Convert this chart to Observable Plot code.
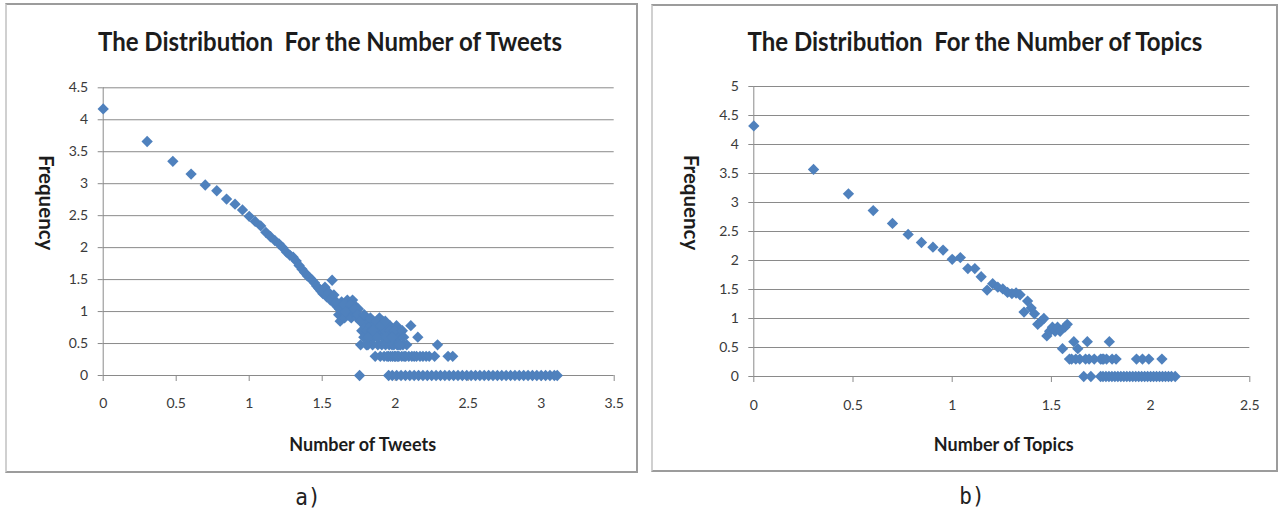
<!DOCTYPE html>
<html>
<head>
<meta charset="utf-8">
<script src="https://cdn.jsdelivr.net/npm/d3@7"></script>
<script src="https://cdn.jsdelivr.net/npm/@observablehq/plot@0.6"></script>
<style>
  html, body { margin: 0; padding: 0; background: #fff; }
  #page { position: relative; width: 1280px; height: 513px; overflow: hidden; font-family: Lato, sans-serif; }
  .panel { position: absolute; box-sizing: border-box; border: 2px solid #9c9c9c; border-left-color: #d0d0d0; }
  .title { position: absolute; font-family: Lato, sans-serif; font-weight: bold; font-size: 24px; color: #1c1c1c; white-space: pre; transform: translate(-50%, -50%) scaleY(1.08); }
  .caption { position: absolute; font-family: "DejaVu Sans Mono", monospace; font-size: 21px; color: #222; white-space: pre; transform: translate(-50%, -50%) scaleY(1.1); }
  .chart { position: absolute; }
</style>
</head>
<body>
<div id="page">
  <div class="panel" style="left:5px; top:3px; width:633px; height:470px;"></div>
  <div class="panel" style="left:651px; top:4px; width:627px; height:468px;"></div>
  <div class="title" style="left:330px; top:41px;">The Distribution  For the Number of Tweets</div>
  <div class="title" style="left:975px; top:41px;">The Distribution  For the Number of Topics</div>
  <div class="caption" style="left:308px; top:497px;">a)</div>
  <div class="caption" style="left:972px; top:496px;">b)</div>
  <div class="chart" id="left" style="left:10px; top:60px;"></div>
  <div class="chart" id="right" style="left:655px; top:60px;"></div>
</div>
<script>
// ---- Chart a) Number of Tweets (log-log) ----
const tweetsX = [0, 0.301, 0.477, 0.602, 0.699, 0.778, 0.845, 0.903, 0.954, 1.000,
  1.041, 1.079, 1.114, 1.146, 1.176, 1.204, 1.230, 1.255, 1.279, 1.301,
  1.322, 1.342, 1.362, 1.380, 1.398, 1.415, 1.431, 1.447, 1.462, 1.477,
  1.491, 1.505, 1.519, 1.531, 1.544, 1.556, 1.568, 1.580, 1.591, 1.602,
  1.613, 1.623, 1.633, 1.643, 1.653, 1.663, 1.672, 1.681, 1.690, 1.699,
  1.708, 1.716, 1.724, 1.732, 1.740, 1.748, 1.763, 1.771, 1.778, 1.785,
  1.792, 1.799, 1.806, 1.813, 1.820, 1.826, 1.833, 1.839, 1.845, 1.851,
  1.857, 1.863, 1.869, 1.875, 1.881, 1.886, 1.892, 1.898, 1.903, 1.908,
  1.914, 1.919, 1.924, 1.929, 1.934, 1.944, 1.949, 1.954, 1.959, 1.964,
  1.968, 1.973, 1.978, 1.982, 1.987, 1.991, 1.996, 2.000, 2.004, 2.009,
  2.013, 2.017, 2.021, 2.025, 2.029, 2.037, 2.045, 2.053, 2.061, 2.072,
  2.079, 2.093, 2.107, 2.114, 2.130, 2.146, 2.155, 2.170, 2.190, 2.212,
  2.233, 2.270, 2.290, 2.362, 2.394,
  1.597, 1.618, 1.648, 1.658, 1.695, 1.720, 1.744, 1.760, 1.788, 1.830,
  1.803, 1.842, 1.872, 1.900, 1.932, 1.962, 1.994, 2.020, 2.049, 2.058,
  1.816, 1.848, 1.878, 1.940, 1.980, 2.033];
const tweetsY = [4.17, 3.66, 3.35, 3.15, 2.98, 2.89, 2.76, 2.68, 2.59, 2.49,
  2.41, 2.34, 2.24, 2.17, 2.11, 2.06, 2.00, 1.93, 1.88, 1.85,
  1.79, 1.72, 1.66, 1.61, 1.56, 1.53, 1.49, 1.45, 1.40, 1.36,
  1.32, 1.28, 1.38, 1.23, 1.30, 1.18, 1.49, 1.26, 1.11, 1.08,
  0.95, 0.85, 1.15, 1.00, 0.90, 1.08, 1.18, 0.95, 1.04, 0.90,
  1.18, 1.11, 1.00, 0.95, 0.90, 1.04, 0.48, 0.70, 0.85, 0.60,
  0.78, 0.90, 0.70, 0.48, 0.85, 0.60, 0.78, 0.70, 0.48, 0.85,
  0.60, 0.30, 0.70, 0.78, 0.48, 0.60, 0.90, 0.30, 0.70, 0.48,
  0.85, 0.60, 0.30, 0.70, 0.48, 0.30, 0.60, 0.30, 0.48, 0.78,
  0.30, 0.60, 0.48, 0.30, 0.70, 0.48, 0.30, 0.60, 0.30, 0.78,
  0.48, 0.30, 0.60, 0.30, 0.70, 0.48, 0.30, 0.48, 0.30, 0.30,
  0.48, 0.30, 0.78, 0.30, 0.30, 0.30, 0.60, 0.30, 0.30, 0.30,
  0.30, 0.30, 0.48, 0.30, 0.30,
  1.15, 1.04, 1.11, 1.00, 1.11, 1.04, 0.95, 0.85, 0.95, 0.90,
  0.48, 0.60, 0.85, 0.78, 0.85, 0.70, 0.70, 0.48, 0.70, 0.60,
  0.60, 0.70, 0.60, 0.60, 0.60, 0.48];
// counts that occur exactly once (frequency log = 0)
const tweetsZeroX = [1.756, 1.955, 1.98, 2.01, 2.04, 2.07, 2.10, 2.13, 2.16, 2.19,
  2.22, 2.25, 2.28, 2.31, 2.34, 2.37, 2.40, 2.43, 2.46, 2.49,
  2.52, 2.55, 2.58, 2.61, 2.64, 2.67, 2.70, 2.73, 2.76, 2.79,
  2.82, 2.85, 2.88, 2.91, 2.94, 2.97, 3.00, 3.03, 3.06, 3.09, 3.11];
const tweetsXTicks = [0, 0.5, 1, 1.5, 2, 2.5, 3, 3.5];
const tweetsYTicks = [0, 0.5, 1, 1.5, 2, 2.5, 3, 3.5, 4, 4.5];

// ---- Chart b) Number of Topics (log-log) ----
const topicsX = [0, 0.301, 0.477, 0.602, 0.699, 0.778, 0.845, 0.903, 0.954, 1.000,
  1.041, 1.079, 1.114, 1.146, 1.176, 1.204, 1.230, 1.255, 1.279, 1.301,
  1.322, 1.342, 1.362, 1.380, 1.398, 1.415, 1.431, 1.447, 1.462, 1.477,
  1.491, 1.505, 1.519, 1.531, 1.544, 1.556, 1.568, 1.580, 1.591, 1.602,
  1.613, 1.623, 1.633, 1.643, 1.672, 1.681, 1.690, 1.716, 1.748, 1.756,
  1.763, 1.778, 1.792, 1.806, 1.826, 1.929, 1.959, 1.991, 2.057];
const topicsY = [4.32, 3.57, 3.15, 2.86, 2.64, 2.45, 2.31, 2.23, 2.18, 2.02,
  2.05, 1.86, 1.86, 1.72, 1.49, 1.60, 1.54, 1.51, 1.45, 1.43,
  1.44, 1.41, 1.11, 1.30, 1.18, 1.08, 0.90, 0.95, 1.00, 0.70,
  0.78, 0.85, 0.78, 0.85, 0.78, 0.48, 0.85, 0.90, 0.30, 0.30,
  0.60, 0.30, 0.48, 0.30, 0.30, 0.60, 0.30, 0.30, 0.30, 0.30,
  0.30, 0.30, 0.60, 0.30, 0.30, 0.30, 0.30, 0.30, 0.30];
const topicsZeroX = [1.663, 1.699, 1.748, 1.760, 1.775, 1.790, 1.805, 1.820, 1.835, 1.850,
  1.865, 1.880, 1.895, 1.910, 1.925, 1.940, 1.955, 1.970, 1.985, 2.000,
  2.015, 2.030, 2.045, 2.060, 2.075, 2.090, 2.105, 2.124];
const topicsXTicks = [0, 0.5, 1, 1.5, 2, 2.5];
const topicsYTicks = [0, 0.5, 1, 1.5, 2, 2.5, 3, 3.5, 4, 4.5, 5];

const MARKER = "#4F81BD";
const GRID = "#8a8a8a";
const TICKTEXT = "#3a3a3a";

function points(xs, ys, zeroXs) {
  return xs.map((x, i) => ({x, y: ys[i]})).concat(zeroXs.map(x => ({x, y: 0})));
}

function chart(cfg) {
  return Plot.plot({
    width: cfg.width,
    height: cfg.height,
    marginLeft: cfg.ml, marginRight: cfg.mr, marginTop: cfg.mt, marginBottom: cfg.mb,
    style: {fontFamily: "Lato, sans-serif", fontSize: "14px", background: "transparent", overflow: "visible"},
    x: {domain: cfg.xDomain, label: null},
    y: {domain: cfg.yDomain, label: null},
    marks: [
      Plot.gridY(cfg.yTicks, {stroke: GRID, strokeOpacity: 1, strokeWidth: 1}),
      Plot.ruleX([0], {stroke: GRID, strokeWidth: 1}),
      Plot.axisX(cfg.xTicks, {tickSize: 6, tickFormat: () => "", color: GRID, label: null}),
      Plot.axisX(cfg.xTicks, {tickSize: 0, tickPadding: cfg.xPad, tickFormat: d => String(d), color: TICKTEXT, fontSize: 14, label: null}),
      Plot.axisY(cfg.yTicks, {tickSize: 5, tickFormat: () => "", color: GRID, label: null}),
      Plot.axisY(cfg.yTicks, {tickSize: 0, tickPadding: 15, tickFormat: d => String(d), color: TICKTEXT, fontSize: 14, label: null}),
      Plot.dot(cfg.data, {x: "x", y: "y", symbol: "diamond2", r: 5.1, fill: MARKER, stroke: null}),
      Plot.text([cfg.xLabel], {text: d => d, frameAnchor: "bottom", lineAnchor: "middle", textAnchor: "middle", dx: cfg.xlDx, dy: cfg.xlDy, fontSize: 18, fontWeight: "bold", fill: "#1c1c1c"}),
      Plot.text(["Frequency"], {text: d => d, frameAnchor: "left", textAnchor: "middle", lineAnchor: "middle", rotate: 90, dx: cfg.ylDx, dy: cfg.ylDy, fontSize: 20.5, fontWeight: "bold", fill: "#1c1c1c"})
    ]
  });
}

document.getElementById("left").append(chart({
  width: 625, height: 410, ml: 92.7, mr: 21.3, mt: 27.3, mb: 95,
  xDomain: [0, 3.5], yDomain: [0, 4.5],
  xTicks: tweetsXTicks, yTicks: tweetsYTicks,
  data: points(tweetsX, tweetsY, tweetsZeroX),
  xPad: 23, xLabel: "Number of Tweets", xlDx: 4, xlDy: 70, ylDx: -58, ylDy: -29
}));

document.getElementById("right").append(chart({
  width: 620, height: 410, ml: 98.3, mr: 25.7, mt: 26, mb: 94,
  xDomain: [0, 2.5], yDomain: [0, 5],
  xTicks: topicsXTicks, yTicks: topicsYTicks,
  data: points(topicsX, topicsY, topicsZeroX),
  xPad: 24, xLabel: "Number of Topics", xlDx: 2, xlDy: 69, ylDx: -63, ylDy: -29
}));
</script>
</body>
</html>
